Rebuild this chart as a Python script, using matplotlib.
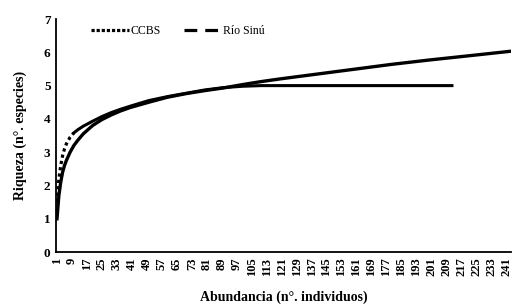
import numpy as np
import matplotlib
matplotlib.use('Agg')
from matplotlib import pyplot as plt
from matplotlib.lines import Line2D

# rarefaction curves, values
ccbs_x = [1, 2, 3, 4, 5, 6, 8, 10, 12, 15, 20, 25, 30, 35, 40, 50, 60, 70,
          80, 90, 100, 110, 120, 140, 160, 180, 200, 212]
ccbs_y = [1.5, 2.2, 2.6, 2.9, 3.1, 3.25, 3.45, 3.58, 3.67, 3.78, 3.93, 4.07,
          4.19, 4.29, 4.38, 4.55, 4.67, 4.77, 4.87, 4.94, 4.98, 5.0, 5.0, 5.0,
          5.0, 5.0, 5.0, 5.0]
sinu_x = [1, 2, 3, 4, 5, 6, 8, 10, 12, 15, 20, 25, 30, 35, 40, 50, 60, 70,
          80, 90, 100, 110, 120, 135, 150, 165, 180, 200, 220, 243]
sinu_y = [1.0, 1.7, 2.1, 2.4, 2.6, 2.75, 3.0, 3.2, 3.35, 3.55, 3.8, 3.98, 4.12,
          4.24, 4.34, 4.5, 4.65, 4.76, 4.85, 4.93, 5.03, 5.12, 5.2, 5.31,
          5.42, 5.53, 5.64, 5.77, 5.89, 6.03]
xticks = list(range(1, 242, 8))
yticks = [0, 1, 2, 3, 4, 5, 6, 7]

plt.rcParams['font.family'] = ['Liberation Serif', 'DejaVu Serif']

fig = plt.figure(figsize=(5.24, 3.07), dpi=100)
ax = fig.add_axes([0.107, 0.179, 0.868, 0.759])

# excel draws the steep start of the dotted series as visible dots
n = 8
ax.plot(ccbs_x[:n], ccbs_y[:n], color='black', lw=2.3, ls=(0, (1, 1)))
ax.plot(ccbs_x[n - 1:], ccbs_y[n - 1:], color='black', lw=2.2)
ax.plot(sinu_x, sinu_y, color='black', lw=2.4)

ax.set_xlim(0.5, 243.5)
ax.set_ylim(0, 7)
ax.set_xticks(xticks)
ax.set_xticklabels([str(t) for t in xticks], rotation=90, fontsize=9,
                   fontweight='bold')
ax.set_yticks(yticks)
ax.set_yticklabels([str(t) for t in yticks], fontsize=9.5, fontweight='bold')
ax.tick_params(length=0, pad=4)
for s in ['top', 'right']:
    ax.spines[s].set_visible(False)
for s in ['left', 'bottom']:
    ax.spines[s].set_linewidth(1.3)

ax.set_xlabel('Abundancia (n°. individuos)', fontsize=10, fontweight='bold',
              labelpad=10)
ax.set_ylabel('Riqueza (n°. especies)', fontsize=10, fontweight='bold',
              labelpad=12)

handles = [Line2D([], [], color='black', lw=2.3, ls=(0, (1, 0.6))),
           Line2D([], [], color='black', lw=2.3, ls=(0, (4, 2.5)))]
fig.legend(handles, ['CCBS', 'Río Sinú'], loc='center',
           bbox_to_anchor=(0.34, 0.9), ncol=2, frameon=False, fontsize=8.5,
           handlelength=3.2, handletextpad=0.1, columnspacing=2.0)

fig.savefig('out.png', dpi=100)
